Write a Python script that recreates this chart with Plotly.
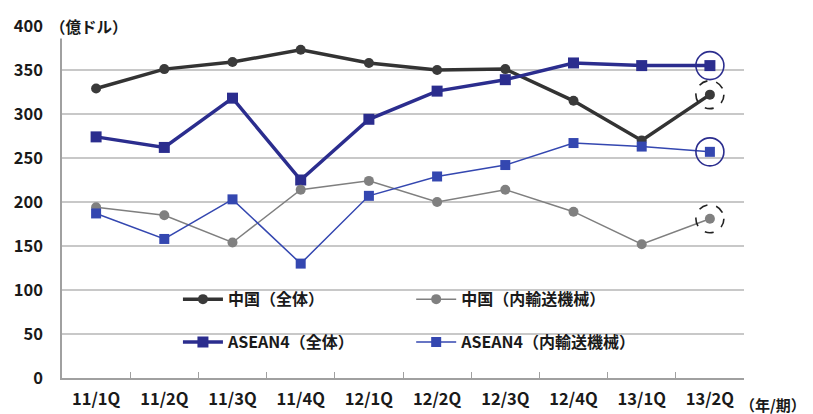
import plotly.graph_objects as go

categories = ["11/1Q", "11/2Q", "11/3Q", "11/4Q", "12/1Q", "12/2Q", "12/3Q", "12/4Q", "13/1Q", "13/2Q"]
china_total = [329, 351, 359, 373, 358, 350, 351, 315, 270, 322]
asean_total = [274, 262, 318, 225, 294, 326, 339, 358, 355, 355]
china_trans = [194, 185, 154, 214, 224, 200, 214, 189, 152, 181]
asean_trans = [187, 158, 203, 130, 207, 229, 242, 267, 263, 257]
y_ticks = [0, 50, 100, 150, 200, 250, 300, 350, 400]

FONT = "Noto Sans CJK JP"
NAVY = "#2b2d8e"
BLUE = "#3447b0"
DARK = "#333333"
GRAY = "#7f7f7f"
TXT = "#1a1a1a"

fig = go.Figure()
fig.add_trace(go.Scatter(x=categories, y=china_total, name="中国（全体）", mode="lines+markers",
                         line=dict(color=DARK, width=3.5), marker=dict(symbol="circle", size=10, color="#3a3a3a"),
                         legend="legend", legendgroup="a"))
fig.add_trace(go.Scatter(x=categories, y=asean_total, name="ASEAN4（全体）", mode="lines+markers",
                         line=dict(color=NAVY, width=3.5), marker=dict(symbol="square", size=11, color=NAVY),
                         legend="legend", legendgroup="b"))
fig.add_trace(go.Scatter(x=categories, y=china_trans, name="中国（内輸送機械）", mode="lines+markers",
                         line=dict(color=GRAY, width=1.5), marker=dict(symbol="circle", size=10, color="#808080"),
                         legend="legend2", legendgroup="c"))
fig.add_trace(go.Scatter(x=categories, y=asean_trans, name="ASEAN4（内輸送機械）", mode="lines+markers",
                         line=dict(color=BLUE, width=1.5), marker=dict(symbol="square", size=10, color=BLUE),
                         legend="legend2", legendgroup="d"))

# white box behind legend (covers gridlines)
fig.add_shape(type="rect", xref="paper", yref="paper", x0=0.166, x1=0.845, y0=0.05, y1=0.31,
              fillcolor="white", line=dict(width=0), layer="between")

# highlight circles on the last quarter
last = len(categories) - 1
for series, color, dash in [(asean_total, NAVY, "solid"), (asean_trans, NAVY, "solid"),
                            (china_total, "#222222", "dash"), (china_trans, "#222222", "dash")]:
    fig.add_shape(type="circle", xref="x", yref="y", xsizemode="pixel", ysizemode="pixel",
                  xanchor=last, yanchor=series[last], x0=-14, x1=14, y0=-14, y1=14,
                  line=dict(color=color, width=1.6, dash=dash), fillcolor="rgba(0,0,0,0)")

legend_common = dict(bgcolor="rgba(0,0,0,0)", borderwidth=0, tracegroupgap=19,
                     font=dict(family=FONT, size=16, color=TXT, weight="bold"),
                     xanchor="left", yanchor="top", itemwidth=40)
tickfont = dict(family=FONT, size=16.5, color=TXT, weight="bold")
fig.update_layout(
    width=813, height=414,
    margin=dict(l=62, r=69, t=26, b=36, autoexpand=False),
    paper_bgcolor="white", plot_bgcolor="white",
    font=dict(family=FONT, size=15, color=TXT),
    showlegend=True,
    legend=dict(x=0.17, y=0.272, **legend_common),
    legend2=dict(x=0.512, y=0.272, **legend_common),
    xaxis=dict(showgrid=False, showline=True, linecolor="#a0a0a0", linewidth=1.5, automargin=False,
               ticks="inside", ticklen=6, tickcolor="#a0a0a0", tickson="boundaries",
               tickfont=tickfont, ticklabelstandoff=5,
               range=[-0.5, len(categories) - 0.5]),
    yaxis=dict(range=[0, 400], tickvals=y_ticks, showgrid=True, gridcolor="#c8c8c8", gridwidth=1.5,
               showline=True, linecolor="#a0a0a0", linewidth=1.5, zeroline=False, ticks="", automargin=False,
               tickfont=tickfont, ticklabelstandoff=14),
)

fig.add_annotation(xref="paper", yref="paper", x=0.0, y=1.0, xanchor="left", yanchor="middle",
                   text="（億ドル）", showarrow=False, bgcolor="white", xshift=-14,
                   font=dict(family=FONT, size=15.5, color=TXT, weight="bold"))
fig.add_annotation(xref="paper", yref="paper", x=1.0, y=0.0, xanchor="left", yanchor="top",
                   text="（年/期）", showarrow=False, yshift=-14, xshift=-6,
                   font=dict(family=FONT, size=15, color=TXT, weight="bold"))

fig.write_html("out.html")
